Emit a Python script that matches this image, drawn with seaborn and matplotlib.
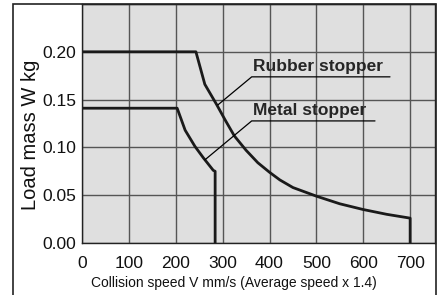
import pandas as pd
import seaborn as sns
import matplotlib.pyplot as plt
from matplotlib.patches import Rectangle

# values
rubber_speed = [0, 243, 262, 287, 305, 325, 350, 375, 400, 422, 450, 500, 550, 600, 650, 700, 700]
rubber_mass = [0.200, 0.200, 0.166, 0.145, 0.129, 0.112, 0.097, 0.084, 0.074, 0.066, 0.058,
               0.049, 0.041, 0.035, 0.030, 0.026, 0.0]
metal_speed = [0, 203, 220, 241, 259, 280, 284, 284]
metal_mass = [0.141, 0.141, 0.118, 0.101, 0.089, 0.076, 0.075, 0.0]
x_ticks = [0, 100, 200, 300, 400, 500, 600, 700]
y_ticks = [0.00, 0.05, 0.10, 0.15, 0.20]

rubber = pd.DataFrame({'speed': rubber_speed, 'mass': rubber_mass})
metal = pd.DataFrame({'speed': metal_speed, 'mass': metal_mass})

sns.set_theme(style="white")
plt.rcParams['font.family'] = ['Liberation Sans', 'DejaVu Sans']

fig = plt.figure(figsize=(4.44, 2.95), dpi=100)
ax = fig.add_axes([82 / 444, 1 - 243 / 295, 353 / 444, 239 / 295])
ax.set_facecolor('#dfdfdf')

# estimator=None so the vertical drop at the end isn't averaged away
sns.lineplot(x='speed', y='mass', data=rubber, sort=False, estimator=None,
             color='#1a1a1a', lw=2.0, ax=ax)
sns.lineplot(x='speed', y='mass', data=metal, sort=False, estimator=None,
             color='#1a1a1a', lw=2.0, ax=ax)

ax.set_xlim(0, 753)
ax.set_ylim(0, 0.25)
ax.set_xticks(x_ticks)
ax.set_yticks(y_ticks + [0.25])
ax.set_yticklabels([f'{v:.2f}' for v in y_ticks] + [''])
ax.grid(True, color='#555555', lw=1.0)
ax.set_axisbelow(True)
ax.tick_params(length=0, labelsize=12.5, colors='#111111')
ax.tick_params(axis='x', pad=9)
ax.tick_params(axis='y', pad=4)
for s in ax.spines.values():
    s.set_color('#222222')
    s.set_linewidth(1.0)

ax.set_xlabel('Collision speed V mm/s (Average speed x 1.4)', fontsize=10, color='#111111')
ax.xaxis.set_label_coords(0.43, -0.14)
ax.set_ylabel('Load mass W kg', fontsize=14.5, color='#111111')
ax.yaxis.set_label_coords(-0.12, 0.452)

# leader lines with underlines
ax.plot([290, 362, 657], [0.1445, 0.1738, 0.1738], color='black', lw=0.9)
ax.plot([262, 362, 625], [0.0869, 0.1277, 0.1277], color='black', lw=0.9)
ax.text(364, 0.1765, 'Rubber stopper', fontsize=12.5, fontweight='bold', ha='left', va='bottom')
ax.text(364, 0.1304, 'Metal stopper', fontsize=12.5, fontweight='bold', ha='left', va='bottom')

# outer frame
fig.add_artist(Rectangle((13 / 444, -0.1), (436 - 13) / 444, 1.1 - 4 / 295,
                         transform=fig.transFigure, fill=False, ec='#222222', lw=1.2))

plt.savefig('out.png', dpi=100)
